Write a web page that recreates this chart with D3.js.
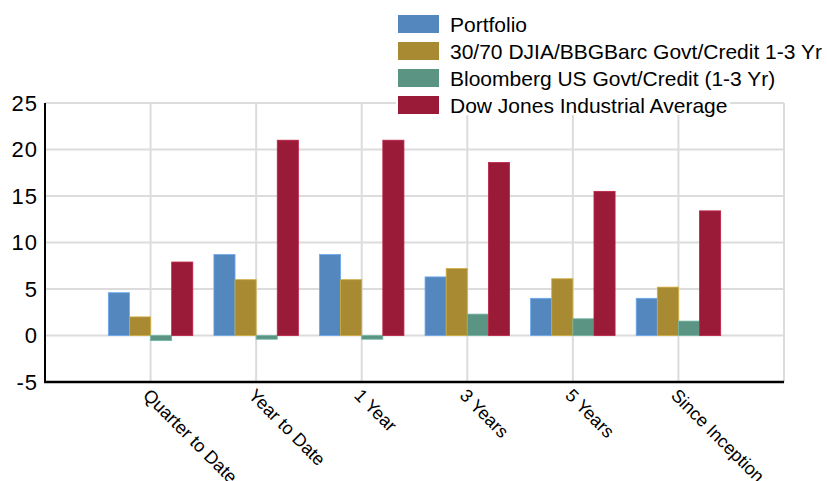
<!DOCTYPE html>
<meta charset="utf-8">
<style>
body { margin: 0; background: #fff; }
text { font-family: "Liberation Sans", Arial, sans-serif; fill: #000; }
</style>
<body>
<script src="https://d3js.org/d3.v7.min.js"></script>
<script>

let width = 827;
let height = 481;

// data
let categories = ["Quarter to Date", "Year to Date", "1 Year", "3 Years", "5 Years", "Since Inception"];
let seriesNames = ["Portfolio", "30/70 DJIA/BBGBarc Govt/Credit 1-3 Yr", "Bloomberg US Govt/Credit (1-3 Yr)", "Dow Jones Industrial Average"];
let portfolio = [4.6, 8.7, 8.7, 6.3, 4.0, 4.0];
let blend = [2.0, 6.0, 6.0, 7.2, 6.1, 5.2];
let bloomberg = [-0.55, -0.4, -0.4, 2.3, 1.8, 1.55];
let dow = [7.9, 21.0, 21.0, 18.6, 15.5, 13.4];
let yTicks = [-5, 0, 5, 10, 15, 20, 25];
let colors = ["#5587bf", "#a88a32", "#5c9484", "#991b38"];

let series = [portfolio, blend, bloomberg, dow];

let plotLeft = 45, plotRight = 784, plotTop = 103, plotBottom = 382;

let svg = d3.select("body").append("svg")
    .attr("width", width)
    .attr("height", height);

let x = d3.scalePoint().domain(categories).range([plotLeft, plotRight]).padding(1);
let y = d3.scaleLinear().domain([-5, 25]).range([plotBottom, plotTop]);
let inner = d3.scaleBand().domain(d3.range(series.length))
    .range([-x.step() * 0.4, x.step() * 0.4]);

// grid
let grid = svg.append("g").attr("stroke", "#dcdcdc").attr("stroke-width", 2);
grid.selectAll(".h").data(yTicks).enter().append("line")
    .attr("x1", plotLeft).attr("x2", plotRight)
    .attr("y1", d => y(d)).attr("y2", d => y(d));
grid.selectAll(".v").data(categories).enter().append("line")
    .attr("x1", d => x(d)).attr("x2", d => x(d))
    .attr("y1", plotTop).attr("y2", plotBottom);
grid.append("line").attr("x1", plotRight).attr("x2", plotRight).attr("y1", plotTop).attr("y2", plotBottom);

// bars
series.forEach(function(vals, si) {
  svg.append("g").selectAll("rect")
    .data(vals)
    .enter().append("rect")
      .attr("x", (d, i) => x(categories[i]) + inner(si))
      .attr("width", inner.bandwidth())
      .attr("y", d => y(Math.max(0, d)))
      .attr("height", d => Math.abs(y(d) - y(0)))
      .attr("fill", colors[si])
      .attr("stroke", d3.color(colors[si]).brighter(0.6))
      .attr("stroke-width", 0.8);
});

// axes
svg.append("line").attr("x1", plotLeft).attr("x2", plotLeft).attr("y1", plotTop).attr("y2", plotBottom + 1)
    .attr("stroke", "#000").attr("stroke-width", 2);
svg.append("line").attr("x1", plotLeft - 1).attr("x2", plotRight).attr("y1", plotBottom).attr("y2", plotBottom)
    .attr("stroke", "#000").attr("stroke-width", 2.5);

svg.append("g").selectAll("text")
  .data(yTicks)
  .enter().append("text")
    .attr("x", 38)
    .attr("y", d => y(d))
    .attr("dy", "0.36em")
    .attr("text-anchor", "end")
    .style("font-size", "22px")
    .style("letter-spacing", "1px")
    .text(d => d);

svg.append("g").selectAll("text")
  .data(categories)
  .enter().append("text")
    .attr("transform", d => "translate(" + (x(d) + 1) + "," + (plotBottom + 5) + ") rotate(45)")
    .attr("dy", "0.75em")
    .style("font-size", "18px")
    .text(d => d);

// legend
let legend = svg.append("g");
legend.append("rect").attr("x", 396).attr("y", 10).attr("width", 334).attr("height", 105).attr("fill", "#fff");
let items = legend.selectAll(".item").data(seriesNames).enter().append("g")
    .attr("transform", (d, i) => "translate(398," + (15 + i * 27) + ")");
items.append("rect").attr("width", 41).attr("height", 18)
    .attr("fill", (d, i) => colors[i]);
items.append("text").attr("x", 52).attr("y", 9).attr("dy", "0.36em")
    .style("font-size", "21px")
    .text(d => d);

</script>
